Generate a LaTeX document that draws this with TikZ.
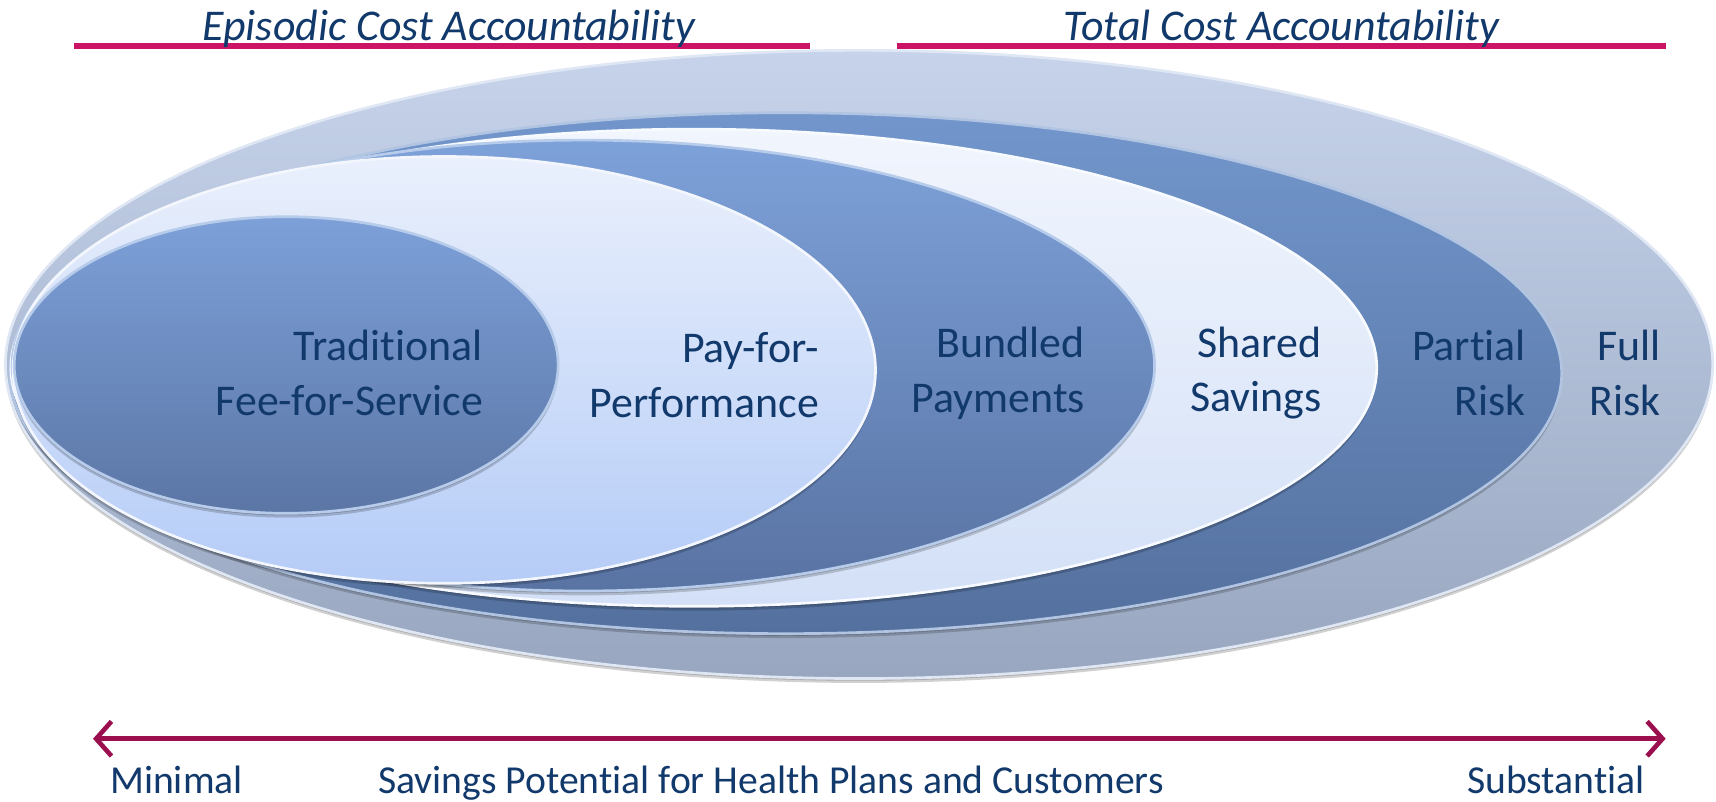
\documentclass[tikz,border=0pt]{standalone}
\usepackage{fontspec}
\setmainfont{Carlito}[Ligatures={NoCommon},RawFeature={-clig}]
\usetikzlibrary{arrows.meta}
\definecolor{txtblue}{HTML}{12396B}
\definecolor{barpink}{HTML}{CC1466}
\definecolor{arrowred}{HTML}{9C0F4F}
\definecolor{frTop}{HTML}{C6D3EB}
\definecolor{frBot}{HTML}{98A6BF}
\definecolor{prTop}{HTML}{7296CC}
\definecolor{prBot}{HTML}{54709E}
\definecolor{ssTop}{HTML}{F1F5FD}
\definecolor{ssBot}{HTML}{D3E0F7}
\definecolor{bpTop}{HTML}{7DA1D9}
\definecolor{bpBot}{HTML}{5973A3}
\definecolor{ppTop}{HTML}{EAF0FC}
\definecolor{ppBot}{HTML}{B5CCF7}
\definecolor{tfTop}{HTML}{7DA0D9}
\definecolor{tfBot}{HTML}{5B76A5}
\newcommand{\mylayer}[6]{%
  \fill[black,opacity=0.18] (#1,#2+4) ellipse [x radius=#3*0.01cm, y radius=#4*0.01cm];
  \fill[black,opacity=0.18] (#1,#2+2) ellipse [x radius=#3*0.01cm, y radius=#4*0.01cm];
  \path[top color=#5, bottom color=#6, draw=#5!55!white, line width=0.7pt]
    (#1,#2) ellipse [x radius=#3*0.01cm, y radius=#4*0.01cm];
}
\begin{document}
\begin{tikzpicture}[x=0.01cm,y=-0.01cm,
  lbl/.style={font=\fontsize{11.4}{14.2}\selectfont, text=txtblue, align=right, inner sep=0pt, anchor=east},
  ttl/.style={font=\fontsize{11.4}{14}\selectfont\itshape, text=txtblue, inner sep=0pt, anchor=base},
  btm/.style={font=\fontsize{10.3}{12}\selectfont, text=txtblue, inner sep=0pt, anchor=base west},
  bar/.style={draw=barpink, line width=1.7pt},
]
\useasboundingbox[fill=white] (0,0) rectangle (1568,732);

% ellipses, outermost first
\mylayer{785}{333}{780}{287}{frTop}{frBot}
\mylayer{718}{341}{709}{238}{prTop}{prBot}
\mylayer{634}{336}{624}{218}{ssTop}{ssBot}
\mylayer{533}{334}{522}{206}{bpTop}{bpBot}
\mylayer{406}{338}{394}{195}{ppTop}{ppBot}
\mylayer{261.5}{333.5}{248.5}{135.5}{tfTop}{tfBot}

% labels
\node[lbl] (tf) at (442,341) {Traditional\\Fee-for-Service};
\node[lbl] (pp) at (749,343) {Pay-for-\\Performance};
\node[lbl] (bp) at (992,341) {Bundled\\Payments};
\node[lbl] (ss) at (1208,341) {Shared\\Savings};
\node[lbl] (pr) at (1395,341) {Partial\\Risk};
\node[lbl] (fr) at (1518,341) {Full\\Risk};

% top bars and titles
\coordinate (b1l) at (68,42);
\coordinate (b1r) at (740,42);
\coordinate (b2l) at (820,42);
\coordinate (b2r) at (1522,42);
\draw[bar] (b1l) -- (b1r);
\draw[bar] (b2l) -- (b2r);
\node[ttl] (epi) at (410,37) {Episodic Cost Accountability};
\node[ttl] (tot) at (1171,37) {Total Cost Accountability};

% bottom arrow
\coordinate (al) at (85,675);
\coordinate (ar) at (1522,675);
\draw[draw=arrowred, line width=1.2pt,
  {Straight Barb[length=4pt,width=9pt]}-{Straight Barb[length=4pt,width=9pt]}] (al) -- (ar);
\node[btm] (mn) at (100,725) {Minimal};
\node[btm] (sp) at (345,725) {Savings Potential for Health Plans and Customers};
\node[btm] (sb) at (1340,725) {Substantial};
\end{tikzpicture}
\end{document}
